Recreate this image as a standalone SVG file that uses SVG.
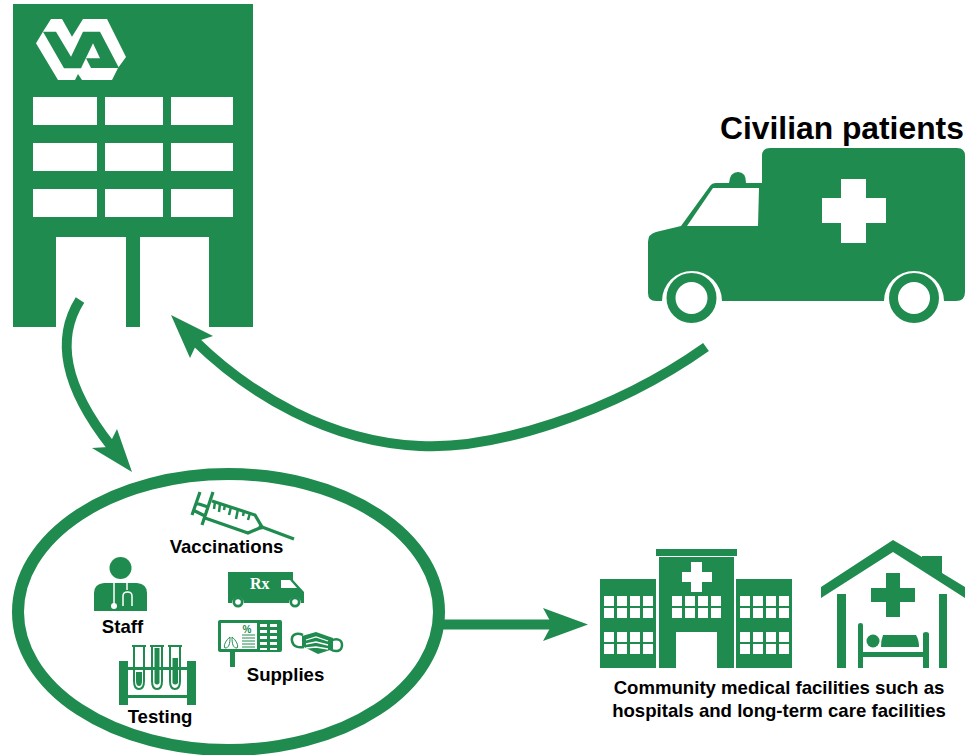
<svg xmlns="http://www.w3.org/2000/svg" width="975" height="755" viewBox="0 0 975 755">
<style>
.g{fill:#208b4f}.w{fill:#fff}.n{fill:none;stroke:#208b4f}
.t{font-family:"Liberation Sans",Arial,sans-serif;font-weight:700;fill:#000;font-size:18.6px}
.c{text-anchor:middle}
</style>
<defs>
<path id="win4" class="w" d="M0 0h10v10h-10zM13 0h10v10h-10zM26 0h10v10h-10zM39 0h10v10h-10zM0 12h10v10h-10zM13 12h10v10h-10zM26 12h10v10h-10zM39 12h10v10h-10z"/>
</defs>
<rect width="975" height="755" fill="#fff"/>
<g id="connectors">
<path class="n" stroke-width="10" d="M80 300C56 338 63 385 111 446"/>
<path class="g" d="M132 472L92 448L108 447L117 429Z"/>
<path class="n" stroke-width="10" d="M706 347C610 415 490 450 420 446C330 442 250 395 194 340"/>
<path class="g" d="M171 315L213 336L198 341L190 358Z"/>
<path class="n" stroke-width="10" d="M442 624.500H552"/>
<path class="g" d="M588 624.500L543 608L552 624.500L543 641Z"/>
</g>
<g id="va-hospital">
<path class="g" d="M13 4H253V327H209V237H140V327H126V237H56V327H13Z"/>
<path class="w" d="M36 43.300L44 30L51 19H62L72 36.700L83 19H107L126 57L118 68L112 80H82L78 74L75 80H58Z"/>
<path class="g" d="M56 31.700L71 56.700L83 31.700H100L119 68H91L86 58.300H100L93 43.300L81 68.300H64L43 31.700Z"/>
<path class="w" d="M33 97h64v28h-64zM105 97h58v28h-58zM171 97h62v28h-62zM33 143h64v28h-64zM105 143h58v28h-58zM171 143h62v28h-62zM33 189h64v28h-64zM105 189h58v28h-58zM171 189h62v28h-62z"/>
</g>
<g id="ambulance">
<path class="g" d="M770 148H957Q965 148 965 156V292Q965 301 956 301H944A30 30 0 0 0 884 301H722A30 30 0 0 0 662 301H656Q648 301 648 293V242Q648 234 656 232L681 226L710 186Q712 183 716 183H729Q730 172 738 172Q746 172 746 183H762V156Q762 148 770 148Z"/>
<path class="w" d="M687 226L713 188H759L758 226Z"/>
<circle class="n" cx="691.500" cy="298" r="20.500" stroke-width="9" fill="#fff"/>
<circle class="n" cx="914" cy="298" r="20.500" stroke-width="9" fill="#fff"/>
<path class="w" d="M841 179H866V198H886V223H866V243H841V223H822V198H841Z"/>
<text class="t" x="720" y="139" style="font-size:31.800px">Civilian patients</text>
</g>
<g id="resources">
<ellipse class="n" cx="228.500" cy="612" rx="210.500" ry="138" stroke-width="12"/>
<g id="vaccinations">
<path class="n" stroke-width="3.200" d="M200 492L192 515M213 492L202 525M196 503L208 507M193 510L205 516M212 501L255 515L262 527L248 533L205 518M262 527L294 539"/>
<path class="n" stroke-width="2.500" d="M215 502L214 509M220 504L219 512M225 505L224 510M231 507L229 515M238 509L236 519M244 511L243 516M250 513L248 520"/>
<circle class="g" cx="261" cy="527" r="2.500"/>
<text class="t c" x="226.500" y="553">Vaccinations</text>
</g>
<g id="staff">
<circle class="g" cx="120.500" cy="568" r="11"/>
<path class="g" d="M94 611V593Q94 584 104 583H137Q147 584 147 593V611Z"/>
<path fill="none" stroke="#fff" stroke-width="1.500" d="M114 583V606M127 583V590M123 606V596Q123 592 127.500 592Q132 592 132 596V606"/>
<circle class="w" cx="114" cy="606" r="3"/>
<text class="t c" x="122.500" y="633">Staff</text>
</g>
<g id="rx-van">
<path class="g" d="M228 572H293V580L304 592V603H301A6 6 0 0 0 289 603H244A6 6 0 0 0 232 603H228Z"/>
<circle class="g" cx="238" cy="602" r="5.500"/><circle class="g" cx="295" cy="602" r="5.500"/>
<circle class="w" cx="238" cy="602" r="2.800"/><circle class="w" cx="295" cy="602" r="2.800"/>
<path class="w" d="M281 580H290L297 588H281Z"/>
<text x="250" y="589" style="font-family:'Liberation Serif',serif;font-weight:700;font-size:16px;fill:#fff">Rx</text>
</g>
<g id="monitor">
<path class="g" d="M220 620H280Q282 620 282 622V650Q282 652 280 652H235V667H230V652H220Q218 652 218 650V622Q218 620 220 620Z"/>
<path class="w" d="M221 623H257V649H221Z"/>
<path class="w" d="M260 624h7v3h-7zM270 624h7v3h-7zM260 630h7v3h-7zM270 630h7v3h-7zM260 636h7v3h-7zM270 636h7v3h-7zM260 642h7v3h-7zM270 642h7v3h-7zM260 648h7v2h-7zM270 648h7v2h-7z"/>
<path class="n" stroke-width="1" d="M242 635h13M242 638h13M242 641h13M242 644h13M242 647h13M230 637C226 640 223 646 225 648C229 648 230 644 230 637ZM232 637C236 640 239 646 237 648C233 648 232 644 232 637Z"/>
<text x="247" y="633" style="font-family:'Liberation Sans',sans-serif;font-weight:700;font-size:10px" fill="#208b4f" text-anchor="middle">%</text>
</g>
<g id="mask">
<path class="n" stroke-width="2.500" d="M303 635C296 632 291 635 292 641C293 647 299 648 304 647M331 641C336 638 342 639 342 645C342 651 336 653 330 649"/>
<path class="g" d="M302 636L316 632L333 638V649L318 654L302 646Z"/>
<path fill="none" stroke="#fff" stroke-width="1.300" d="M306 640L316 637L328 641M306 644L316 642L328 645M306 648L316 647L328 649"/>
</g>
<text class="t c" x="285.500" y="681">Supplies</text>
<g id="testing">
<path class="g" d="M119 661H128V705H119ZM187 661H196V705H187ZM128 667H187V670H128ZM128 695H187V698H128Z"/>
<path fill="none" stroke="#208b4f" stroke-width="2" d="M134 646H144V681Q144 689 139 689Q134 689 134 681ZM152 646H162V681Q162 689 157 689Q152 689 152 681ZM170 646H180V681Q180 689 175 689Q170 689 170 681ZM132 646H146M150 646H164M168 646H182"/>
<path class="g" d="M136 672H142V681Q142 686 139 686Q136 686 136 681ZM154.500 648H159.500V683Q157 686 154.500 683ZM172.500 658H178V670H172.500ZM172.500 670H178V683Q175 686 172.500 683Z"/>
<text class="t c" x="160" y="723">Testing</text>
</g>
</g>
<g id="community-hospital">
<path class="g" d="M600 579H656V668H600ZM736 579H792V668H736ZM656 549H737V556H656ZM659 557H734V668H717V632H676V668H659Z"/>
<path class="w" d="M691 562H702V572H712V582H702V592H691V582H682V572H691Z"/>
<use href="#win4" x="604" y="596"/><use href="#win4" x="604" y="632"/>
<use href="#win4" x="672" y="596"/>
<use href="#win4" x="740" y="596"/><use href="#win4" x="740" y="632"/>
</g>
<g id="care-home">
<path class="g" d="M893 540L922 557V556H942V573L965 587V598L893 552L821 598V587Z"/>
<path class="g" d="M837 594H846V668H837ZM939 594H947V668H939ZM871 588H886V573H900V588H915V602H900V617H886V602H871Z"/>
<circle class="g" cx="873" cy="641" r="6.500"/>
<path class="g" d="M883 635H916Q919 640 919 647H881Q881 640 883 635Z"/>
<path class="g" d="M858 625Q858 623 860.500 623Q863 623 863 625V652H923V634Q923 632 926 632Q929 632 929 634V668H923V657H863V668H858Z"/>
</g>
<text class="t c" x="779" y="694">Community medical facilities such as</text>
<text class="t c" x="779" y="717">hospitals and long-term care facilities</text>
</svg>
